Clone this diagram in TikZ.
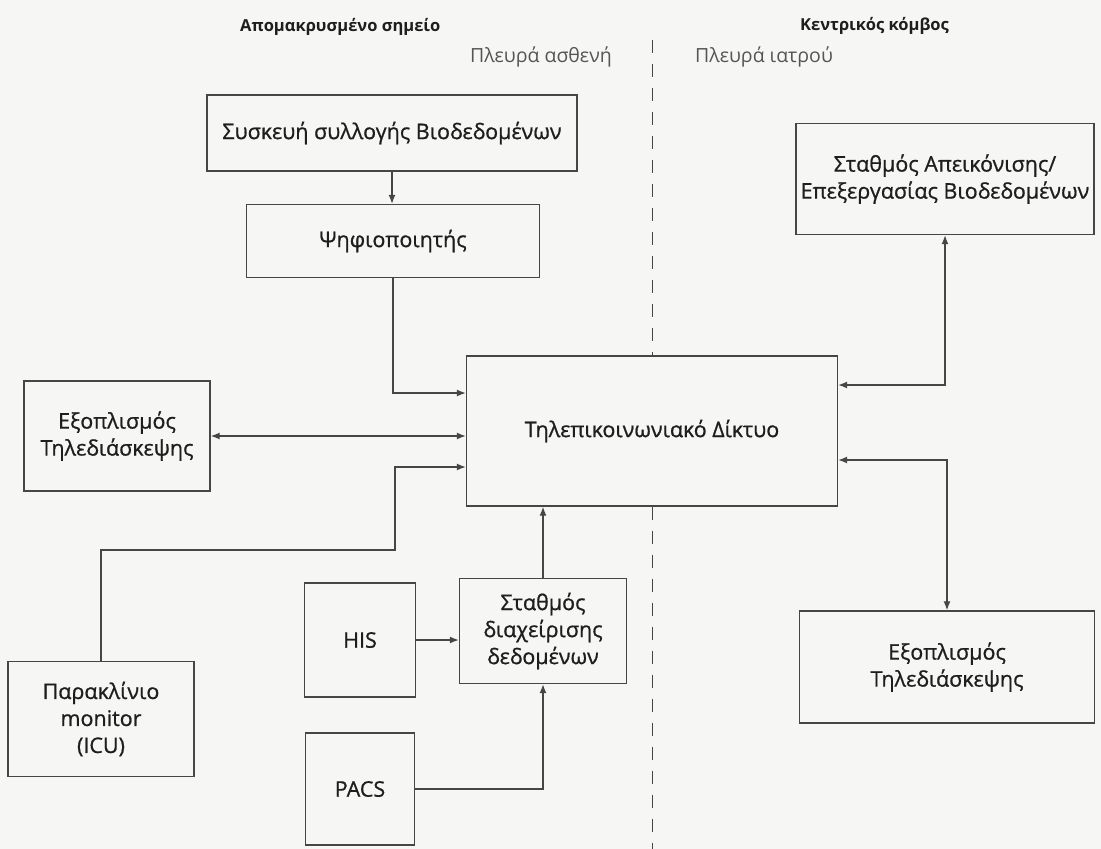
\documentclass[tikz,border=0pt]{standalone}
\usepackage{fontspec}
\setmainfont{Open Sans}
\newfontfamily\boxfont[RawFeature={embolden=0.8}]{Open Sans}
\newfontfamily\sidefont{Open Sans}
\usetikzlibrary{arrows.meta}
\definecolor{bg}{RGB}{246,246,244}
\definecolor{ln}{RGB}{70,70,70}
\definecolor{tx}{RGB}{30,30,30}
\definecolor{side}{RGB}{85,85,85}
\begin{document}
\begin{tikzpicture}[x=1pt,y=-1pt,
  box/.style={draw=ln, line width=1.4pt, fill=bg, rectangle, align=center, inner sep=1pt,
              text=tx, font=\boxfont\fontsize{21.5}{27}\selectfont},
  arr/.style={draw=ln, line width=1.3pt, -{Latex[length=9pt,width=7pt]}},
  darr/.style={draw=ln, line width=1.3pt, {Latex[length=9pt,width=7pt]}-{Latex[length=9pt,width=7pt]}},
  divider/.style={draw=ln, line width=0.9pt, dash pattern=on 13pt off 11pt},
  titlelbl/.style={text=tx, font=\fontsize{16.5}{20}\selectfont\bfseries, inner sep=0pt},
  sidelbl/.style={text=side, font=\sidefont\fontsize{19.5}{23}\selectfont, inner sep=0pt}
]
\fill[bg] (0,0) rectangle (1101,849);
\useasboundingbox (0,0) rectangle (1101,849);

% titles
\node[titlelbl, anchor=west] (t1) at (240,27) {Απομακρυσμένο σημείο};
\node[titlelbl, anchor=west] (t2) at (800,26) {Κεντρικός κόμβος};
\node[sidelbl, anchor=east] (s1) at (612,57) {Πλευρά ασθενή};
\node[sidelbl, anchor=west] (s2) at (695,57) {Πλευρά ιατρού};

% boxes
\node[box, minimum width=370pt, minimum height=76pt] (B1) at (392,133) {Συσκευή συλλογής Βιοδεδομένων};
\node[box, minimum width=293pt, minimum height=73pt] (B2) at (393,241) {Ψηφιοποιητής};
\node[box, minimum width=371pt, minimum height=150pt] (Net) at (652,431) {Τηλεπικοινωνιακό Δίκτυο};
\node[box, minimum width=186pt, minimum height=110pt] (LE) at (117,436) {Εξοπλισμός\\Τηλεδιάσκεψης};
\node[box, minimum width=186pt, minimum height=115pt] (ICU) at (101,719) {Παρακλίνιο\\monitor\\(ICU)};
\node[box, minimum width=111pt, minimum height=114pt] (HIS) at (360,640) {HIS};
\node[box, minimum width=167pt, minimum height=105pt] (SD) at (543,631) {Σταθμός\\διαχείρισης\\δεδομένων};
\node[box, minimum width=109pt, minimum height=112pt] (PACS) at (360,789) {PACS};
\node[box, minimum width=298pt, minimum height=111pt] (RU) at (945,179) {Σταθμός Απεικόνισης/\\Επεξεργασίας Βιοδεδομένων};
\node[box, minimum width=295pt, minimum height=112pt] (RL) at (947,667) {Εξοπλισμός\\Τηλεδιάσκεψης};

% divider
\coordinate (dtop) at (652,40);
\coordinate (dbot) at (652,849);
\draw[divider] (dtop) -- (dtop |- Net.north);
\draw[divider] (dtop |- Net.south) -- (dbot);

% connectors
\coordinate (icuturn) at (395,550);
\draw[arr] (B1.south) -- (B1.south |- B2.north);
\draw[arr] (B2.south) |- ([yshift=38pt]Net.west);
\draw[darr] (LE.east) -- (LE.east -| Net.west);
\draw[arr] (ICU.north) |- (icuturn) |- ([yshift=-36pt]Net.west);
\draw[arr] (HIS.east) -- (HIS.east -| SD.west);
\draw[arr] (PACS.east) -| (SD.south);
\draw[arr] (SD.north) -- (SD.north |- Net.south);
\draw[darr] ([yshift=46pt]Net.east) -| (RU.south);
\draw[darr] ([yshift=-29pt]Net.east) -| (RL.north);
\end{tikzpicture}
\end{document}
